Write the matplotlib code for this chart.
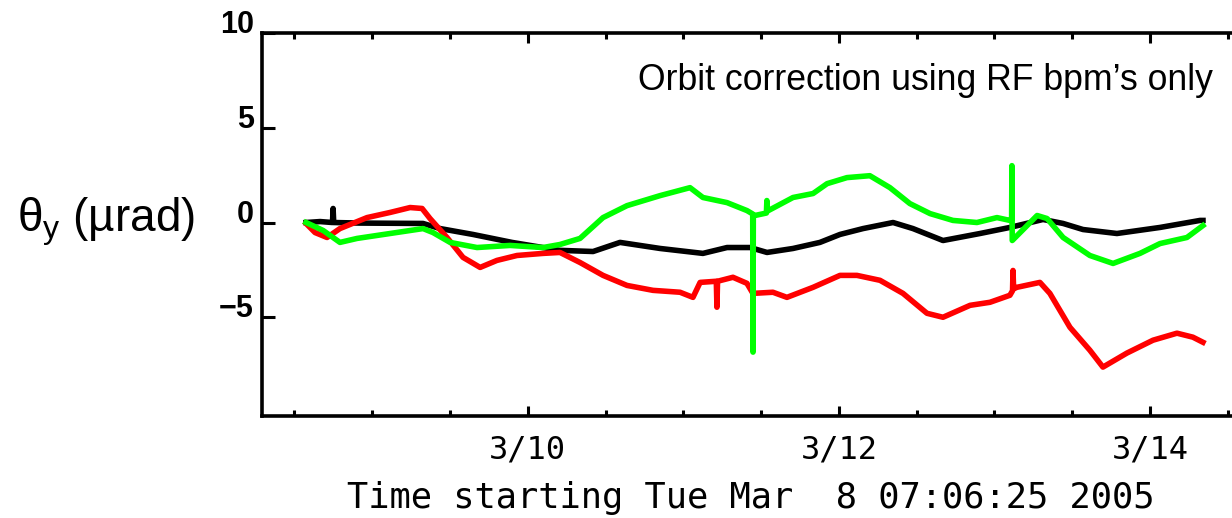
import matplotlib
matplotlib.use("Agg")
import matplotlib.pyplot as plt
from matplotlib.ticker import FixedLocator, MultipleLocator

# time in days since Mar 8 00:00, angle in microradians
black_t = [0.575, 0.665, 0.745, 0.749, 0.753, 0.922, 1.327, 1.437, 1.648, 1.899,
           2.207, 2.420, 2.593, 2.851, 3.126, 3.281, 3.429, 3.538, 3.705, 3.878,
           4.007, 4.155, 4.348, 4.476, 4.669, 4.907, 5.099, 5.312, 5.441, 5.569,
           5.787, 6.064, 6.321, 6.340]
black_v = [0.0, 0.05, 0.0, 0.74, 0.0, -0.03, -0.05, -0.32, -0.63, -1.05,
           -1.47, -1.53, -1.05, -1.37, -1.63, -1.32, -1.32, -1.58, -1.37, -1.05,
           -0.63, -0.32, 0.0, -0.32, -0.95, -0.58, -0.26, 0.16, -0.05, -0.37,
           -0.58, -0.26, 0.11, 0.11]

red_t = [0.575, 0.633, 0.710, 0.793, 0.967, 1.115, 1.244, 1.321, 1.372, 1.481,
         1.584, 1.694, 1.802, 1.931, 2.098, 2.207, 2.336, 2.484, 2.638, 2.805,
         2.979, 3.062, 3.108, 3.212, 3.216, 3.220, 3.319, 3.409, 3.447, 3.576,
         3.666, 3.834, 4.007, 4.116, 4.264, 4.412, 4.566, 4.669, 4.843, 4.971,
         5.099, 5.116, 5.119, 5.123, 5.144, 5.292, 5.356, 5.485, 5.613, 5.697,
         5.851, 6.019, 6.173, 6.275, 6.340]
red_v = [-0.05, -0.53, -0.79, -0.32, 0.26, 0.53, 0.79, 0.74, 0.21, -0.79,
         -1.84, -2.37, -2.0, -1.74, -1.63, -1.58, -2.11, -2.79, -3.32, -3.58,
         -3.68, -3.95, -3.16, -3.1, -4.47, -3.1, -2.89, -3.21, -3.74, -3.68,
         -3.95, -3.42, -2.79, -2.79, -3.05, -3.74, -4.79, -5.0, -4.37, -4.21,
         -3.84, -3.6, -2.53, -3.5, -3.42, -3.16, -3.74, -5.53, -6.74, -7.63,
         -6.89, -6.21, -5.84, -6.05, -6.32]

green_t = [0.575, 0.685, 0.793, 0.903, 1.115, 1.327, 1.391, 1.501, 1.674, 1.886,
           2.098, 2.207, 2.336, 2.484, 2.638, 2.851, 3.043, 3.126, 3.281, 3.409,
           3.446, 3.448, 3.450, 3.460, 3.534, 3.537, 3.540, 3.705, 3.834, 3.924,
           4.052, 4.199, 4.328, 4.456, 4.586, 4.733, 4.887, 5.016, 5.099, 5.110,
           5.112, 5.114, 5.274, 5.338, 5.441, 5.613, 5.762, 5.935, 6.064, 6.237,
           6.340]
green_v = [0.0, -0.42, -1.05, -0.84, -0.58, -0.32, -0.53, -1.05, -1.32, -1.21,
           -1.32, -1.16, -0.84, 0.26, 0.89, 1.42, 1.84, 1.32, 1.05, 0.63,
           0.45, -6.84, 0.4, 0.37, 0.5, 1.16, 0.6, 1.32, 1.53, 2.05,
           2.37, 2.47, 1.84, 1.0, 0.47, 0.11, 0.0, 0.26, 0.11, 0.15,
           3.0, -0.95, 0.37, 0.21, -0.79, -1.74, -2.16, -1.63, -1.11, -0.79,
           -0.16]

date_ticks = [2, 4, 6]
date_labels = ["3/10", "3/12", "3/14"]
y_ticks = [-5, 0, 5, 10]
y_labels = ["\u22125", "0", "5", "10"]

fig = plt.figure(figsize=(12.32, 5.18), dpi=100)
ax = fig.add_axes([262 / 1232, 1 - 416 / 518, (1240 - 262) / 1232, 383 / 518])

lw = 4.0
ax.plot(black_t, black_v, color="black", linewidth=lw)
ax.plot(red_t, red_v, color="#ff0000", linewidth=lw)
ax.plot(green_t, green_v, color="#00ff00", linewidth=lw)

ax.set_xlim(0.292, 6.578)
ax.set_ylim(-10.21, 10)

for side in ["left", "top", "bottom"]:
    ax.spines[side].set_linewidth(2.6)
ax.spines["right"].set_visible(False)

ax.xaxis.set_major_locator(FixedLocator(date_ticks))
ax.xaxis.set_minor_locator(MultipleLocator(0.5))
ax.set_xticklabels(date_labels, family="DejaVu Sans Mono", fontsize=23)
ax.tick_params(axis="x", which="both", direction="in", top=True, width=2.2, pad=13)
ax.tick_params(axis="x", which="major", length=7.5)
ax.tick_params(axis="x", which="minor", length=4.5)

ax.set_yticks(y_ticks)
ax.set_yticklabels(y_labels, family="Liberation Sans", fontweight="bold", fontsize=22)
ax.tick_params(axis="y", direction="in", length=9.5, width=2.2, pad=6)
for lab in ax.get_yticklabels():
    lab.set_verticalalignment("baseline")

ax.set_xlabel("Time starting Tue Mar  8 07:06:25 2005",
              family="DejaVu Sans Mono", fontsize=25.5, va="center")
ax.xaxis.set_label_coords(0.5, -0.215)

plt.rcParams["mathtext.fontset"] = "custom"
plt.rcParams["mathtext.rm"] = "Liberation Sans"
plt.rcParams["mathtext.it"] = "Liberation Sans"
fig.text(17 / 1232, 1 - 231 / 518, r"$\theta_{\mathrm{y}}$ (" + "\u00b5" + "rad)",
         family="Liberation Sans", fontsize=33, ha="left", va="baseline")

fig.text(1213 / 1232, 1 - 90 / 518, "Orbit correction using RF bpm\u2019s only",
         family="Liberation Sans", fontsize=25.7, ha="right", va="baseline")

fig.savefig("out.png", dpi=100)
